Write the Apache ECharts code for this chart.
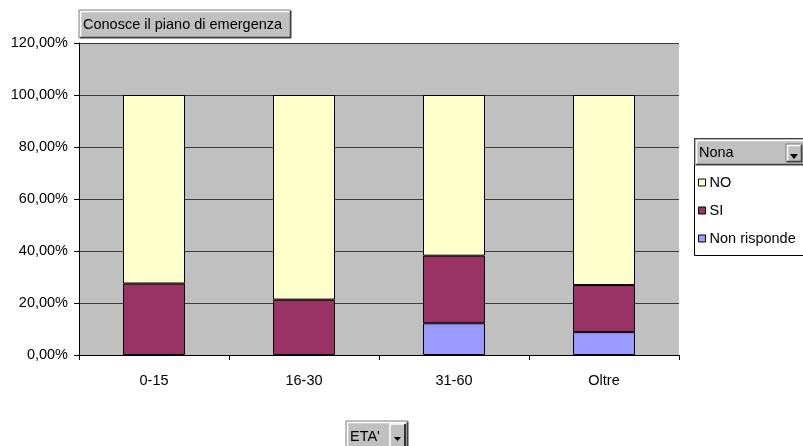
<!DOCTYPE html>
<html>
<head>
<meta charset="utf-8">
<script src="https://cdn.jsdelivr.net/npm/echarts@6/dist/echarts.min.js"></script>
<style>html,body{margin:0;padding:0;background:#fff}#c{width:803px;height:446px}</style>
</head>
<body>
<div id="c"></div>
<script>
var categories = ['0-15', '16-30', '31-60', 'Oltre'];
var nonRisponde = [0, 0, 12.2, 8.8];
var si = [27.5, 21.3, 26.0, 18.1];
var no = [72.5, 78.7, 61.8, 73.1];
var seriesNames = ['Non risponde', 'SI', 'NO'];
var seriesColors = ['#9999FF', '#993366', '#FFFFCC'];
var titleText = 'Conosce il piano di emergenza';
var legendTitle = 'Nona';
var axisButton = "ETA'";

var font = 'Arial, "Liberation Sans", sans-serif';
var FS = 14.5;
var chart = echarts.init(document.getElementById('c'));
var dataSets = [nonRisponde, si, no];
var series = dataSets.map(function (d, i) {
  return {
    name: seriesNames[i], type: 'bar', stack: 'tot',
    data: d.map(function (v) { return v === 0 ? '-' : v; }),
    barWidth: 62,
    itemStyle: { color: seriesColors[i], borderColor: '#000', borderWidth: 1 },
    emphasis: { disabled: true }
  };
});

function button(x, y, w, h, label, withArrow) {
  var els = [
    { type: 'rect', shape: { x: x, y: y, width: w, height: h }, style: { fill: '#C0C0C0', stroke: '#808080', lineWidth: 1 } },
    { type: 'polyline', shape: { points: [[x + 1.5, y + h - 1], [x + 1.5, y + 1.5], [x + w - 1, y + 1.5]] }, style: { stroke: '#fff', fill: null, lineWidth: 1.5 } },
    { type: 'polyline', shape: { points: [[x + 1, y + h - 0.5], [x + w - 0.5, y + h - 0.5], [x + w - 0.5, y + 1]] }, style: { stroke: '#404040', fill: null, lineWidth: 1.5 } },
    { type: 'text', x: x + 4, y: y + h / 2 + 1, style: { text: label, fill: '#000', font: FS + 'px ' + font, verticalAlign: 'middle' } }
  ];
  if (withArrow) {
    var bx = x + w - 18;
    els.push({ type: 'rect', shape: { x: bx, y: y + 3, width: 15, height: h - 5 }, style: { fill: '#C0C0C0', stroke: null } });
    els.push({ type: 'polyline', shape: { points: [[bx, y + h - 2], [bx, y + 3], [bx + 15, y + 3]] }, style: { stroke: '#fff', fill: null, lineWidth: 1.5 } });
    els.push({ type: 'polyline', shape: { points: [[bx, y + h - 2], [bx + 15, y + h - 2], [bx + 15, y + 3]] }, style: { stroke: '#000', fill: null, lineWidth: 1.5 } });
    els.push({ type: 'polygon', shape: { points: [[bx + 4, y + h / 2 + 1], [bx + 11, y + h / 2 + 1], [bx + 7.5, y + h / 2 + 5]] }, style: { fill: '#000' } });
  }
  return els;
}

var graphics = [];
graphics = graphics.concat(button(79, 10, 212, 28, titleText, false));
// legend frame
graphics.push({ type: 'rect', shape: { x: 694.5, y: 138.5, width: 120, height: 117 }, style: { fill: '#fff', stroke: '#000', lineWidth: 1 }, z: -1 });
graphics = graphics.concat(button(695, 139, 120, 26, legendTitle, false));
graphics = graphics.concat(button(786, 144, 16, 18, '', false));
graphics.push({ type: 'polygon', shape: { points: [[790, 154], [798, 154], [794, 159]] }, style: { fill: '#000' } });
graphics = graphics.concat(button(346, 421, 62, 30, axisButton, true));

chart.setOption({
  animation: false,
  grid: { left: 79, right: 124, top: 43, bottom: 91, show: true, backgroundColor: '#C0C0C0', borderWidth: 0 },
  legend: {
    data: ['NO', 'SI', 'Non risponde'],
    orient: 'vertical', left: 698, top: 175, padding: 0,
    icon: 'rect', itemWidth: 7, itemHeight: 7, itemGap: 13,
    itemStyle: { borderColor: '#000', borderWidth: 1 },
    textStyle: { fontFamily: font, fontSize: FS, color: '#000', padding: [0, 0, 0, -1] },
    selectedMode: false
  },
  xAxis: {
    type: 'category', data: categories,
    axisLine: { lineStyle: { color: '#000', width: 1 } },
    axisTick: { show: true, alignWithLabel: false, length: 5, lineStyle: { color: '#000' } },
    axisLabel: { fontFamily: font, fontSize: FS, color: '#000', margin: 18 },
    splitLine: { show: false }
  },
  yAxis: {
    type: 'value', min: 0, max: 120, interval: 20,
    axisLine: { show: true, lineStyle: { color: '#000', width: 1 } },
    axisTick: { show: true, length: 5, lineStyle: { color: '#000' } },
    axisLabel: { fontFamily: font, fontSize: FS, color: '#000', margin: 11, formatter: function (v) { return v.toFixed(2).replace('.', ',') + '%'; } },
    splitLine: { show: true, lineStyle: { color: '#3a3a3a', width: 1 } }
  },
  series: series,
  graphic: graphics
});
</script>
</body>
</html>
